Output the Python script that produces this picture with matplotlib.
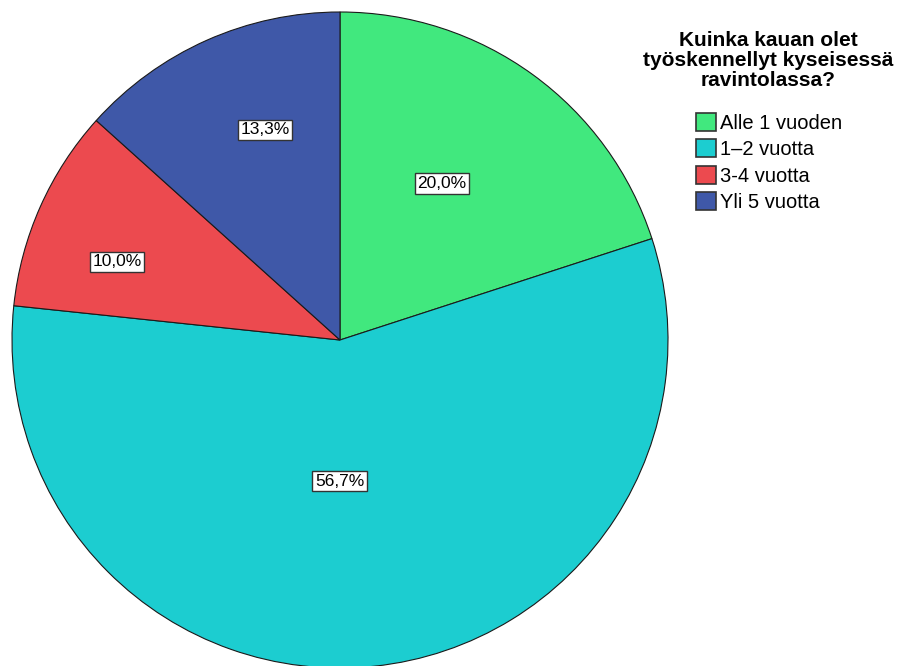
import matplotlib
matplotlib.use("Agg")
import matplotlib.pyplot as plt
import numpy as np
from matplotlib.patches import Patch

plt.rcParams['font.family'] = ['Liberation Sans', 'DejaVu Sans']

# vastaukset (n=30)
categories = ["Alle 1 vuoden", "1\u20132 vuotta", "3-4 vuotta", "Yli 5 vuotta"]
counts = [6, 17, 3, 4]
colors = ["#41e87e", "#1ccdd0", "#ec4a4f", "#3f58a8"]
title = "Kuinka kauan olet\ntyöskennellyt kyseisessä\nravintolassa?"

# where each % label sits: fraction of the way across the slice, and of the radius
label_frac = [0.46, 0.53, 0.37, 0.59]
label_dist = [0.57, 0.43, 0.72, 0.68]

W, H = 903, 666
fig = plt.figure(figsize=(W / 100, H / 100), dpi=100)
ax = fig.add_axes([0, 0, 1, 1])

cx, cy, r = 340, 340, 328
total = sum(counts)
# y axis runs downwards, so start at -90 and go counterclockwise in data space
wedges, _ = ax.pie(counts, colors=colors, startangle=-90, counterclock=True,
                   center=(cx, cy), radius=r, frame=True,
                   wedgeprops=dict(edgecolor="#1a1a1a", linewidth=0.8))
ax.set_xlim(0, W)
ax.set_ylim(H, 0)
ax.set_aspect("equal")
ax.axis("off")

for w, c, f, d in zip(wedges, counts, label_frac, label_dist):
    ang = np.deg2rad(w.theta1 + f * (w.theta2 - w.theta1))
    x = cx + d * r * np.cos(ang)
    y = cy + d * r * np.sin(ang)
    pct = f"{100 * c / total:.1f}%".replace(".", ",")
    ax.text(x, y, pct, ha="center", va="center", fontsize=12.5,
            bbox=dict(boxstyle="square,pad=0.15", fc="white", ec="#333333", lw=1))

# legend title drawn on its own so its spacing can be set
fig.text(768 / W, 1 - 31 / H, title, ha="center", va="top", fontsize=15,
         fontweight="bold", linespacing=1.05, multialignment="center")

handles = [Patch(facecolor=col, edgecolor="#333333", linewidth=1.2) for col in colors]
leg = fig.legend(handles, categories, loc="upper left",
                 bbox_to_anchor=(696 / W, 1 - 113 / H), frameon=False,
                 fontsize=14.5, handlelength=1.0, handleheight=1.0,
                 handletextpad=0.2, labelspacing=0.32, borderpad=0,
                 borderaxespad=0)

fig.savefig("out.png", dpi=100)
